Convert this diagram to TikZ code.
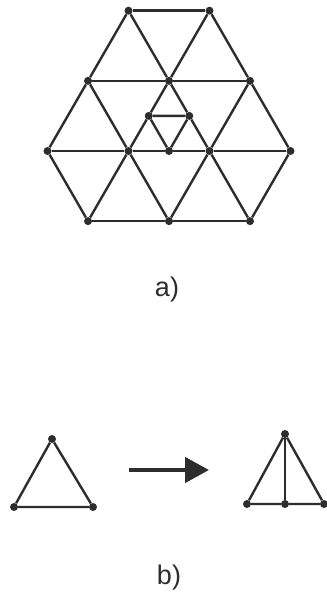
\documentclass[tikz,border=0pt]{standalone}
\usepackage{fontspec}
\setmainfont{Liberation Sans}
\usetikzlibrary{arrows.meta,positioning}
\definecolor{ink}{RGB}{45,45,45}

\begin{document}
\begin{tikzpicture}[
  x=1pt,y=1pt,
  dot/.style={circle,fill=ink,inner sep=0pt,minimum size=8pt},
  edge/.style={draw=ink,line width=2.4pt},
  arrow/.style={draw=ink,line width=4.5pt,-{Triangle[length=24pt,width=25pt]}},
  caption/.style={anchor=base,font=\fontsize{27}{30}\selectfont,text=ink}
]
\useasboundingbox (0,0) rectangle (326,593);
% a) triangular grid
\begin{scope}[shift={(169pt,442pt)},x=81pt,y=70.15pt]
\foreach \n/\p in {t1/{-0.5,2},t2/{0.5,2},
                   m1/{-1,1},m2/{0,1},m3/{1,1},
                   c1/{-1.5,0},c2/{-0.5,0},c3/{0.5,0},c4/{1.5,0},
                   b1/{-1,-1},b2/{0,-1},b3/{1,-1},
                   p1/{-0.25,0.5},p2/{0.25,0.5},p3/{0,0}}
  \node[dot] (\n) at (\p) {};
\end{scope}
\draw[edge] (t1) -- (t2);
\draw[edge] (m1) -- (m2) -- (m3);
\draw[edge] (c1) -- (c2) -- (p3) -- (c3) -- (c4);
\draw[edge] (b1) -- (b2) -- (b3);
\draw[edge] (t1) -- (m2) -- (p2) -- (c3) -- (b3);
\draw[edge] (m1) -- (c2) -- (b2);
\draw[edge] (c1) -- (b1);
\draw[edge] (t2) -- (m3) -- (c4);
\draw[edge] (t2) -- (m2) -- (p1) -- (c2) -- (b1);
\draw[edge] (m3) -- (c3) -- (b2);
\draw[edge] (t1) -- (m1) -- (c1);
\draw[edge] (c4) -- (b3);
\draw[edge] (p1) -- (p2) -- (p3) -- (p1);
\node[caption] (capa) at (167,296) {a)};
% b) splitting a triangle
\node[dot] (la) at (52,154) {};
\node[dot] (ll) at (14,86) {};
\node[dot] (lr) at (93,86) {};
\draw[edge] (la) -- (ll) -- (lr) -- (la);
\coordinate (as) at (129,123);
\coordinate (ae) at (209,123);
\draw[arrow] (as) -- (ae);
\node[dot] (ra) at (285,159) {};
\node[dot] (rl) at (247,89) {};
\node[dot] (rm) at (285,89) {};
\node[dot] (rr) at (324,89) {};
\draw[edge] (ra) -- (rl) -- (rm) -- (rr) -- (ra);
\draw[edge] (ra) -- (rm);
\node[caption] (capb) at (169,9) {b)};
\end{tikzpicture}
\end{document}
